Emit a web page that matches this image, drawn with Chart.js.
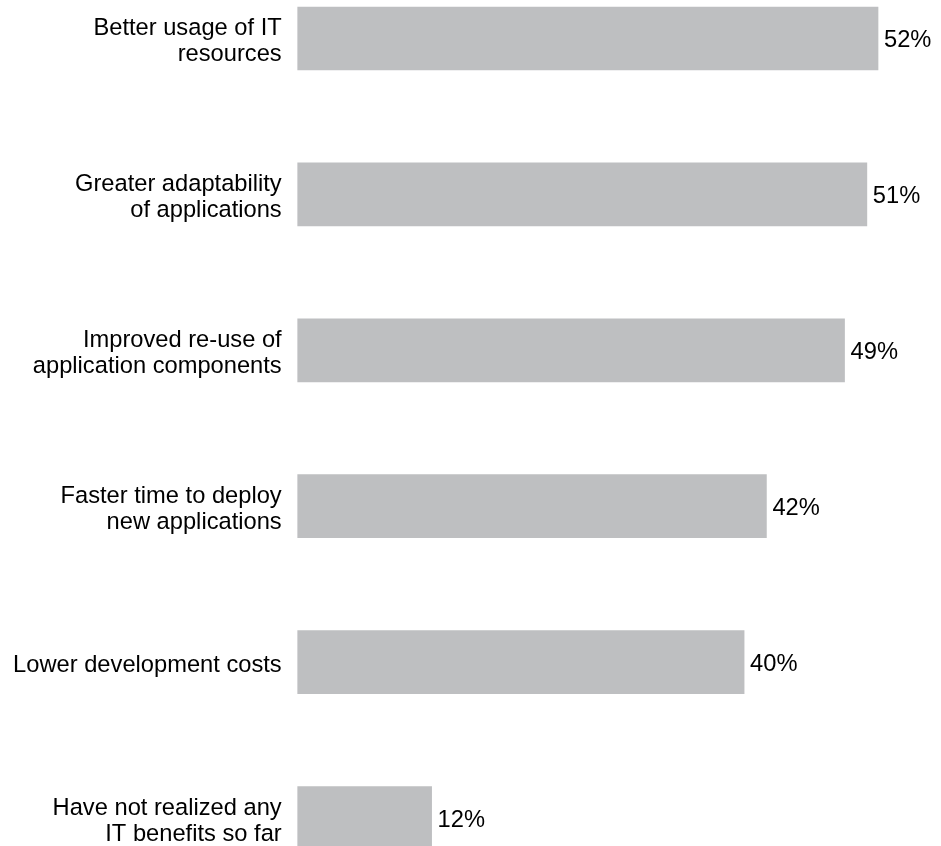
<!DOCTYPE html>
<html>
<head>
<meta charset="utf-8">
<script src="https://cdn.jsdelivr.net/npm/chart.js@4"></script>
<style>
  html, body { margin: 0; padding: 0; background: #fff; }
  .chart-wrap { position: relative; width: 941px; height: 846px; }
</style>
</head>
<body>
<div class="chart-wrap">
  <canvas id="bar"></canvas>
</div>
<script>
// benefits realized, share of respondents
const categories = [
  ['Better usage of IT', 'resources'],
  ['Greater adaptability', 'of applications'],
  ['Improved re-use of', 'application components'],
  ['Faster time to deploy', 'new applications'],
  'Lower development costs',
  ['Have not realized any', 'IT benefits so far'],
];
const shares = [52, 51, 49, 42, 40, 12];

const FONT = 'Arial, "Liberation Sans", Helvetica, sans-serif';

// writes the percentage just past the end of each bar
const valueLabels = {
  id: 'valueLabels',
  afterDatasetsDraw(chart) {
    const ctx = chart.ctx;
    const meta = chart.getDatasetMeta(0);
    ctx.save();
    ctx.font = '23.7px ' + FONT;
    ctx.fillStyle = '#000';
    ctx.textAlign = 'left';
    ctx.textBaseline = 'middle';
    meta.data.forEach((bar, i) => {
      ctx.fillText(shares[i] + '%', bar.x + 6, bar.y + 2);
    });
    ctx.restore();
  }
};

new Chart(document.getElementById('bar'), {
  type: 'bar',
  data: {
    labels: categories,
    datasets: [{
      data: shares,
      backgroundColor: '#bebfc1',
      borderWidth: 0,
      barThickness: 63,
      clip: false,
    }],
  },
  options: {
    indexAxis: 'y',
    responsive: true,
    maintainAspectRatio: false,
    animation: false,
    layout: {
      padding: { top: 38.5, bottom: 28, left: 0, right: 29.5 }
    },
    plugins: {
      legend: { display: false },
      tooltip: { enabled: false },
    },
    scales: {
      x: {
        display: false,
        min: 0,
        max: 55,
      },
      y: {
        offset: false,
        grid: { display: false, drawTicks: false },
        border: { display: false },
        afterFit(scale) {
          // fixed label column, and no extra room for the end labels
          scale.width = 297.7;
          scale.paddingTop = 0;
          scale.paddingBottom = 0;
        },
        ticks: {
          autoSkip: false,
          padding: 16,
          labelOffset: 3,
          color: '#000',
          font: { family: FONT, size: 23.7, lineHeight: 1.1 },
        },
      },
    },
  },
  plugins: [valueLabels],
});
</script>
</body>
</html>
